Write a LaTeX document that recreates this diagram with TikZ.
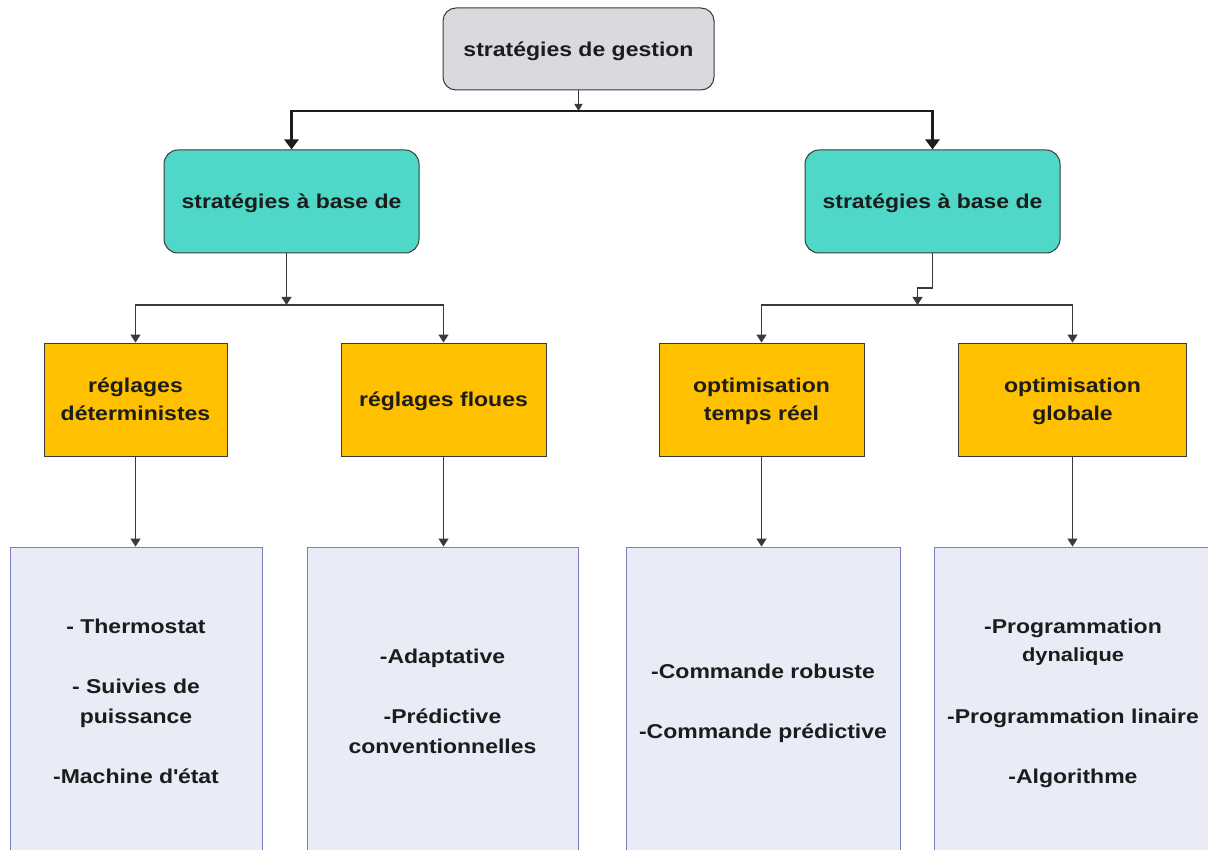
\documentclass[tikz,border=0pt]{standalone}
\usepackage{fontspec}
\setmainfont[FakeStretch=1.15]{Liberation Sans}
\usetikzlibrary{arrows.meta}

\definecolor{ink}{HTML}{1C1C1C}
\definecolor{edge}{HTML}{3A3A3A}
\definecolor{rootfill}{HTML}{D9D9DE}
\definecolor{tealfill}{HTML}{4FD8C8}
\definecolor{ambfill}{HTML}{FFC000}
\definecolor{lavfill}{HTML}{E9EBF7}
\definecolor{lavedge}{HTML}{7C7CC2}

\tikzset{
  base/.style={font=\bfseries\fontsize{20}{28}\selectfont, text=ink, align=center,
    inner sep=0pt, text depth=0pt},
  rootbox/.style={base, draw=edge, line width=1pt, fill=rootfill, rounded corners=13pt,
    minimum width=271pt, minimum height=82pt},
  familybox/.style={base, draw=edge, line width=1pt, fill=tealfill, rounded corners=14pt,
    minimum width=255pt, minimum height=103pt},
  methodbox/.style={base, draw=edge, line width=0.9pt, fill=ambfill, minimum height=113pt},
  listbox/.style={base, font=\bfseries\fontsize{20}{30}\selectfont, draw=lavedge, line width=0.9pt,
    fill=lavfill, minimum height=308pt},
  mainlink/.style={draw=ink, line width=2.4pt, -{Triangle[length=10pt,width=14pt]}},
  link/.style={draw=edge, line width=1.2pt, -{Triangle[length=8pt,width=10pt]}},
}

\begin{document}
\begin{tikzpicture}[x=1pt,y=-1pt]
\useasboundingbox (0,0) rectangle (1208,850);
\fill[white] (0,0) rectangle (1208,850);

% root
\node[rootbox] (root) at (578.5,49) {stratégies de gestion};

% strategy families
\node[familybox] (famL) at (291.5,201.5) {stratégies à base de};
\node[familybox] (famR) at (932.5,201.5) {stratégies à base de};

% methods
\node[methodbox, minimum width=183pt] (m1) at (135.5,399.5) {réglages\\déterministes};
\node[methodbox, minimum width=205pt] (m2) at (443.5,399.5) {réglages floues};
\node[methodbox, minimum width=205pt] (m3) at (761.5,399.5) {optimisation\\temps réel};
\node[methodbox, minimum width=228pt] (m4) at (1072.5,399.5) {optimisation\\globale};

% examples
\node[listbox, minimum width=252pt] (l1) at (136,701) {- Thermostat\\[30pt]- Suivies de\\puissance\\[30pt]-Machine d\textquotesingle état};
\node[listbox, minimum width=271pt] (l2) at (442.5,701) {-Adaptative\\[30pt]-Prédictive\\conventionnelles};
\node[listbox, minimum width=274pt] (l3) at (763,701) {-Commande robuste\\[30pt]-Commande prédictive};
\node[listbox, minimum width=278pt] (l4) at (1073,701) {-Programmation\\[-2pt]{\fontsize{19}{28}\selectfont dynalique}\\[32pt]-Programmation linaire\\[30pt]-Algorithme};

% top-level bus
\coordinate (busT) at (578.5,111);
\draw[draw=edge, line width=1.2pt, -{Triangle[length=7pt,width=8pt]}] (root.south) -- (busT);
\draw[mainlink] (busT) -| (famL);
\draw[mainlink] (busT) -| (famR);

% left family bus
\coordinate (busL) at (286.5,305);
\draw[link] (famL.south -| busL) -- (busL);
\draw[link] (busL) -| (m1);
\draw[link] (busL) -| (m2);

% right family bus
\coordinate (busR) at (917.5,305);
\coordinate (bendR) at (932.5,288);
\draw[link] (famR.south) -- (bendR) -| (busR);
\draw[link] (busR) -| (m3);
\draw[link] (busR) -| (m4);

% methods to examples
\draw[link] (m1.south) -- (m1.south |- l1.north);
\draw[link] (m2.south) -- (m2.south |- l2.north);
\draw[link] (m3.south) -- (m3.south |- l3.north);
\draw[link] (m4.south) -- (m4.south |- l4.north);
\end{tikzpicture}
\end{document}
